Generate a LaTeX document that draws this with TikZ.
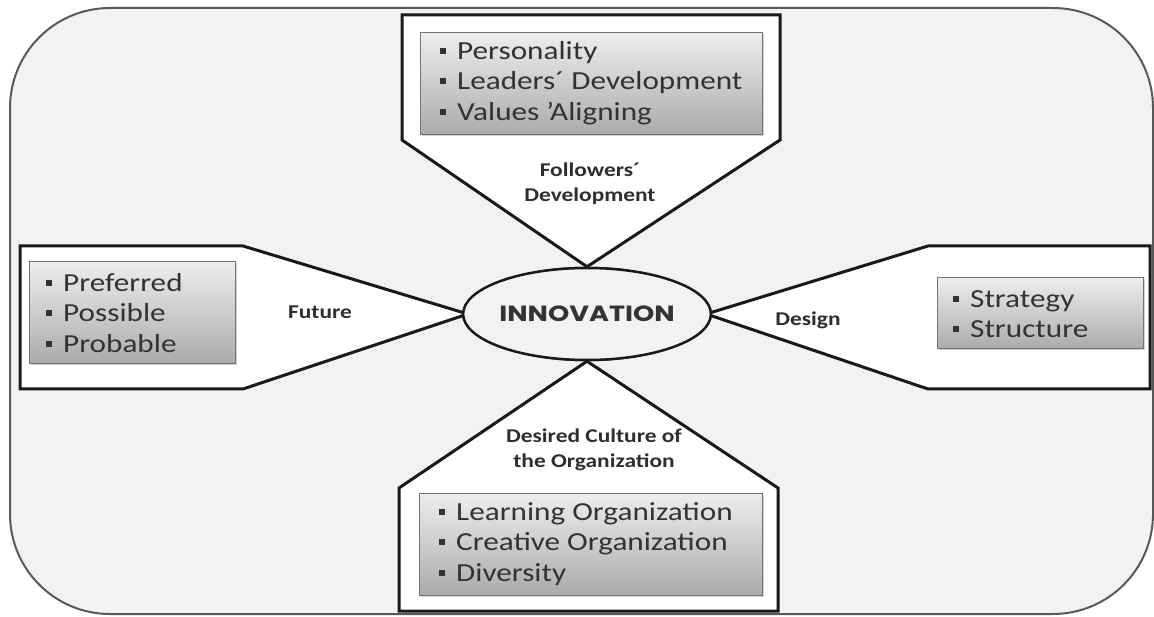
\documentclass[tikz,border=0pt]{standalone}
\usepackage{fontspec}
\setmainfont[FakeStretch=1.2]{Carlito}
\newfontfamily\geofont[FakeStretch=1.23]{Poppins}
\usetikzlibrary{shapes.geometric,shadows}
\definecolor{bgc}{HTML}{F1F2F3}
\definecolor{txtc}{HTML}{333333}
\newcommand\blt{\raisebox{0.45ex}{\rule{6pt}{6pt}}\hspace{11pt}}
\newcommand\sq{\char"0027\relax}
\begin{document}
\begin{tikzpicture}[x=1pt,y=-1pt,
  frame/.style={draw=black!65,line width=2pt,fill=bgc,rounded corners=100pt},
  arm/.style={draw=black!90,line width=3pt,fill=white,line join=miter},
  listbox/.style={draw=black!55,line width=1pt,top color=black!7,bottom color=black!33,
     drop shadow={shadow xshift=1.5pt,shadow yshift=-1.5pt,opacity=0.35}},
  listtxt/.style={anchor=west,align=left,text=txtc,inner sep=0pt,
     font=\fontsize{26}{30.5}\selectfont},
  armlabel/.style={align=center,text=txtc!90!black,inner sep=0pt,
     font=\bfseries\fontsize{19.5}{25}\selectfont},
  core/.style={ellipse,draw=black!90,line width=2.5pt,fill=bgc,minimum width=236pt,minimum height=92pt,
     inner sep=0pt,text=txtc,font=\geofont\bfseries\fontsize{22}{24}\selectfont}
]
\useasboundingbox (0,0) rectangle (1154,617);
\fill[white] (0,0) rectangle (1154,617);
\path[frame] (10,8) rectangle (1153,614);

\node[core] (inn) at (587,314) {};

\path[arm] (402,15) -- (780,15) -- (780,140) -- (inn.north) -- (402,140) -- cycle;
\path[arm] (20,246) -- (243,246) -- (inn.west) -- (243,389) -- (20,389) -- cycle;
\path[arm] (1150,246) -- (928,246) -- (inn.east) -- (928,389) -- (1150,389) -- cycle;
\path[arm] (399,611) -- (399,488) -- (inn.south) -- (778,488) -- (778,611) -- cycle;

\node[core] (inn2) at (587,314) {INNOVATION};

\path[listbox] (420,33) rectangle (762,135);
\node[listtxt] (fol) at (440,83) {\blt Personality\\ \blt Leaders´ Development\\ \blt Values \sq Aligning};

\path[listbox] (29,262) rectangle (235,364);
\node[listtxt] (fut) at (46,313) {\blt Preferred\\ \blt Possible\\ \blt Probable};

\path[listbox] (937,278) rectangle (1143,349);
\node[listtxt] (des) at (953,314) {\blt Strategy\\ \blt Structure};

\path[listbox] (419,493) rectangle (762,595);
\node[listtxt] (cul) at (439,544) {\blt Learning Organization\\ \blt Creative Organization\\ \blt Diversity};

\node[armlabel] (lfol) at (590,184) {Followers´\\Development};
\node[armlabel] (lfut) at (320,312) {Future};
\node[armlabel] (ldes) at (808,320) {Design};
\node[armlabel] (lcul) at (594,450) {Desired Culture of\\the Organization};
\end{tikzpicture}
\end{document}
